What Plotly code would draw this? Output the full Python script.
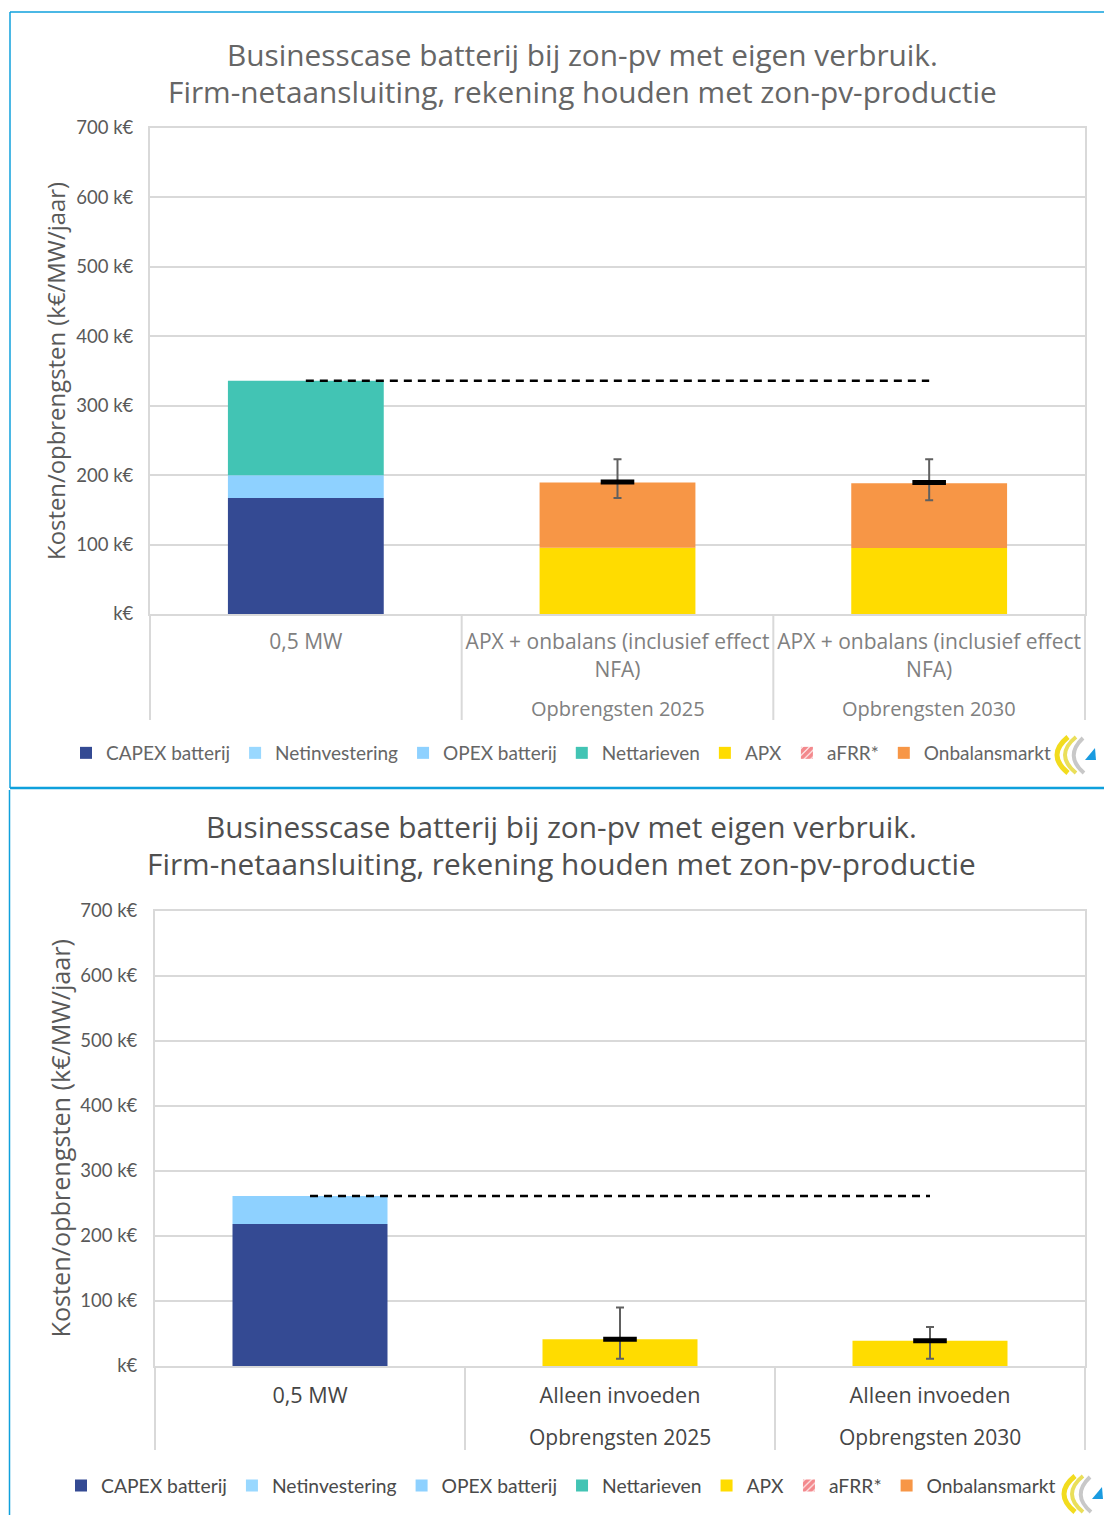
import plotly.graph_objects as go

W, H = 1104, 1515


def px(x):
    return x / W


def py(y):
    return 1 - y / H


# ---------------- data ----------------
series_names = ["CAPEX batterij", "Netinvestering", "OPEX batterij", "Nettarieven",
                "APX", "aFRR*", "Onbalansmarkt"]
series_colors = ["#344a93", "#99d8ff", "#8ed1ff", "#42c4b4", "#ffdc00", "#ff0000", "#f79646"]

title_lines = ["Businesscase batterij bij zon-pv met eigen verbruik.",
               "Firm-netaansluiting, rekening houden met zon-pv-productie"]
y_title = "Kosten/opbrengsten (k€/MW/jaar)"
y_tickvals = [0, 100, 200, 300, 400, 500, 600, 700]
y_ticktext = ["k€", "100 k€", "200 k€", "300 k€", "400 k€", "500 k€", "600 k€", "700 k€"]

# top chart
top_categories = ["0,5 MW", "APX + onbalans (inclusief effect<br>NFA)",
                  "APX + onbalans (inclusief effect<br>NFA)"]
top_groups = ["", "Opbrengsten 2025", "Opbrengsten 2030"]
top_capex = [167, 0, 0]
top_netinv = [0, 0, 0]
top_opex = [33, 0, 0]
top_nettarief = [136, 0, 0]
top_apx = [0, 95.5, 95]
top_afrr = [0, 0, 0]
top_onbalans = [0, 94, 93.5]
top_total_cost = 336
top_err_x = [1, 2]
top_err_mid = [190, 189.5]
top_err_high = [223, 223]
top_err_low = [167, 164]

# bottom chart
bot_categories = ["0,5 MW", "Alleen invoeden", "Alleen invoeden"]
bot_groups = ["", "Opbrengsten 2025", "Opbrengsten 2030"]
bot_capex = [218.5, 0, 0]
bot_netinv = [0, 0, 0]
bot_opex = [43, 0, 0]
bot_nettarief = [0, 0, 0]
bot_apx = [0, 41, 39]
bot_afrr = [0, 0, 0]
bot_onbalans = [0, 0, 0]
bot_total_cost = 261.5
bot_err_x = [1, 2]
bot_err_mid = [41, 39]
bot_err_high = [90, 60]
bot_err_low = [11, 11]

FONT = "Lato"
FONT2 = "Open Sans"
fig = go.Figure()

charts = [
    dict(xa="x", ya="y", leg="legend",
         series=[top_capex, top_netinv, top_opex, top_nettarief, top_apx, top_afrr, top_onbalans],
         total=top_total_cost, ex=top_err_x, em=top_err_mid, eh=top_err_high, el=top_err_low),
    dict(xa="x2", ya="y2", leg="legend2",
         series=[bot_capex, bot_netinv, bot_opex, bot_nettarief, bot_apx, bot_afrr, bot_onbalans],
         total=bot_total_cost, ex=bot_err_x, em=bot_err_mid, eh=bot_err_high, el=bot_err_low),
]

for ch in charts:
    for name, color, vals in zip(series_names, series_colors, ch["series"]):
        if name == "aFRR*":
            marker = dict(color="white", line=dict(width=0),
                          pattern=dict(shape="/", fgcolor="#e8141c", bgcolor="white", size=6, solidity=0.8))
        else:
            marker = dict(color=color, line=dict(width=0))
        fig.add_trace(go.Bar(x=[0, 1, 2], y=vals, name=name, marker=marker,
                             xaxis=ch["xa"], yaxis=ch["ya"], legend=ch["leg"]))
    fig.add_trace(go.Scatter(x=[0, 2], y=[ch["total"], ch["total"]], mode="lines",
                             line=dict(color="black", width=2.5, dash="8px,6px"),
                             showlegend=False, xaxis=ch["xa"], yaxis=ch["ya"], hoverinfo="skip"))
    fig.add_trace(go.Scatter(
        x=ch["ex"], y=ch["em"], mode="markers",
        marker=dict(symbol="line-ew", size=24, line=dict(color="black", width=5)),
        error_y=dict(type="data", symmetric=False,
                     array=[h - m for h, m in zip(ch["eh"], ch["em"])],
                     arrayminus=[m - l for m, l in zip(ch["em"], ch["el"])],
                     color="#606060", thickness=2, width=4),
        showlegend=False, xaxis=ch["xa"], yaxis=ch["ya"]))

# ---------------- layout geometry (pixels) ----------------
top = dict(x0=150, x1=1085, y700=128, y0=614, ybot=720, tick_color="#808080", grp_y=708,
           title_ys=(54, 91), title_x=582, ytitle_x=55, leg_y=753, fs=21, gfs=20, leg_x=66,
           xstand=8, ystand=11, ytfs=23.9, tcolor="#666666")
bot = dict(x0=155, x1=1085, y700=911, y0=1366, ybot=1450, tick_color="#454545", grp_y=1437,
           title_ys=(826, 863), title_x=561, ytitle_x=59, leg_y=1486, fs=21.6, gfs=21, leg_x=61,
           xstand=9, ystand=12, ytfs=25.2, tcolor="#4f4f4f")

axis_common = dict(zeroline=False, showline=True, mirror=True,
                   linecolor="#d9d9d9", linewidth=2, automargin=False)

layout_axes = {}
for key, g, cats in [("", top, top_categories), ("2", bot, bot_categories)]:
    layout_axes["xaxis" + key] = dict(
        domain=[px(g["x0"]), px(g["x1"])], range=[-0.5, 2.5], tickmode="array",
        tickvals=[0, 1, 2], ticktext=cats, ticks="", showgrid=False,
        tickfont=dict(family=FONT2, size=g["fs"], color=g["tick_color"]),
        ticklabelstandoff=g["xstand"],
        anchor="y" + key, fixedrange=True, **axis_common)
    layout_axes["yaxis" + key] = dict(
        domain=[py(g["y0"]), py(g["y700"])], range=[0, 700], tickmode="array",
        tickvals=y_tickvals, ticktext=y_ticktext, ticks="",
        showgrid=True, gridcolor="#d9d9d9", gridwidth=2,
        tickfont=dict(family=FONT, size=18.5, color="#595959"), ticklabelstandoff=g["ystand"],
        anchor="x" + key, fixedrange=True, **axis_common)

shapes = []
annotations = []
for g, groups, xref in [(top, top_groups, "x"), (bot, bot_groups, "x2")]:
    # frame extension below plot area
    for xpx in (g["x0"], g["x1"]):
        shapes.append(dict(type="line", xref="paper", yref="paper", x0=px(xpx), x1=px(xpx),
                           y0=py(g["y0"]), y1=py(g["ybot"]), line=dict(color="#d9d9d9", width=2)))
    for xv in (0.5, 1.5):
        shapes.append(dict(type="line", xref=xref, yref="paper", x0=xv, x1=xv,
                           y0=py(g["y0"]), y1=py(g["ybot"]), line=dict(color="#d9d9d9", width=2)))
    for i, grp in enumerate(groups):
        if grp:
            annotations.append(dict(text=grp, xref=xref, yref="paper", x=i, y=py(g["grp_y"]),
                                    showarrow=False, xanchor="center", yanchor="middle",
                                    font=dict(family=FONT2, size=g["gfs"], color=g["tick_color"])))
    for line, ty in zip(title_lines, g["title_ys"]):
        annotations.append(dict(text=line, xref="paper", yref="paper",
                                x=px(g["title_x"]), y=py(ty), showarrow=False,
                                xanchor="center", yanchor="middle", align="center",
                                font=dict(family=FONT2, size=29.8, color=g["tcolor"])))
    annotations.append(dict(text=y_title, xref="paper", yref="paper", textangle=-90,
                            x=px(g["ytitle_x"]), y=py((g["y0"] + g["y700"]) / 2), showarrow=False,
                            xanchor="center", yanchor="middle",
                            font=dict(family=FONT2, size=g["ytfs"], color="#595959")))

# page frames (blue)
blue = "#0fa0dc"
shapes += [
    dict(type="line", xref="paper", yref="paper", x0=px(10), x1=1, y0=py(12), y1=py(12),
         line=dict(color=blue, width=1.5)),
    dict(type="line", xref="paper", yref="paper", x0=px(10), x1=px(10), y0=py(12), y1=py(788),
         line=dict(color=blue, width=1.5)),
    dict(type="line", xref="paper", yref="paper", x0=px(10), x1=1, y0=py(788), y1=py(788),
         line=dict(color=blue, width=2.5)),
    dict(type="line", xref="paper", yref="paper", x0=px(9.5), x1=px(9.5), y0=py(790), y1=0,
         line=dict(color=blue, width=1.5)),
]


# logos (approximate)
def logo(x0, y0, s):
    def P(x, y):
        return f"{px(x0 + x * s):.5f},{py(y0 + y * s):.5f}"
    out = []
    out.append(dict(type="path", xref="paper", yref="paper",
                    path=f"M{P(16,0)} Q{P(-6,18)} {P(16,36)}",
                    line=dict(color="#f2dc1e", width=5)))
    out.append(dict(type="path", xref="paper", yref="paper",
                    path=f"M{P(24,0)} Q{P(2,18)} {P(24,36)}",
                    line=dict(color="#eadf5a", width=4)))
    out.append(dict(type="path", xref="paper", yref="paper",
                    path=f"M{P(31,1)} Q{P(12,19)} {P(32,36)}",
                    line=dict(color="#c8c8c8", width=4)))
    out.append(dict(type="path", xref="paper", yref="paper",
                    path=f"M{P(33,23)} L{P(44,23)} L{P(43,11)} Z",
                    fillcolor="#1a9be0", line=dict(width=0)))
    return out


shapes += logo(1052, 737, 1.0)
shapes += logo(1059, 1476, 1.0)

fig.update_layout(
    width=W, height=H, margin=dict(l=0, r=0, t=0, b=0),
    paper_bgcolor="white", plot_bgcolor="white",
    barmode="relative", bargap=0.5,
    font=dict(family=FONT, color="#595959"),
    shapes=shapes, annotations=annotations,
    legend=dict(orientation="h", x=px(top["leg_x"]), xanchor="left", y=py(top["leg_y"]),
                yanchor="middle", font=dict(family=FONT, size=19, color="#666666"),
                itemwidth=30, bgcolor="rgba(0,0,0,0)", traceorder="normal"),
    legend2=dict(orientation="h", x=px(bot["leg_x"]), xanchor="left", y=py(bot["leg_y"]),
                 yanchor="middle", font=dict(family=FONT, size=19.3, color="#4a4a4a"),
                 itemwidth=30, bgcolor="rgba(0,0,0,0)", traceorder="normal"),
    showlegend=True,
    **layout_axes,
)

fig.write_html("out.html", config={"displayModeBar": False},
               post_script="document.body.style.margin='0';document.body.style.overflow='hidden';")
